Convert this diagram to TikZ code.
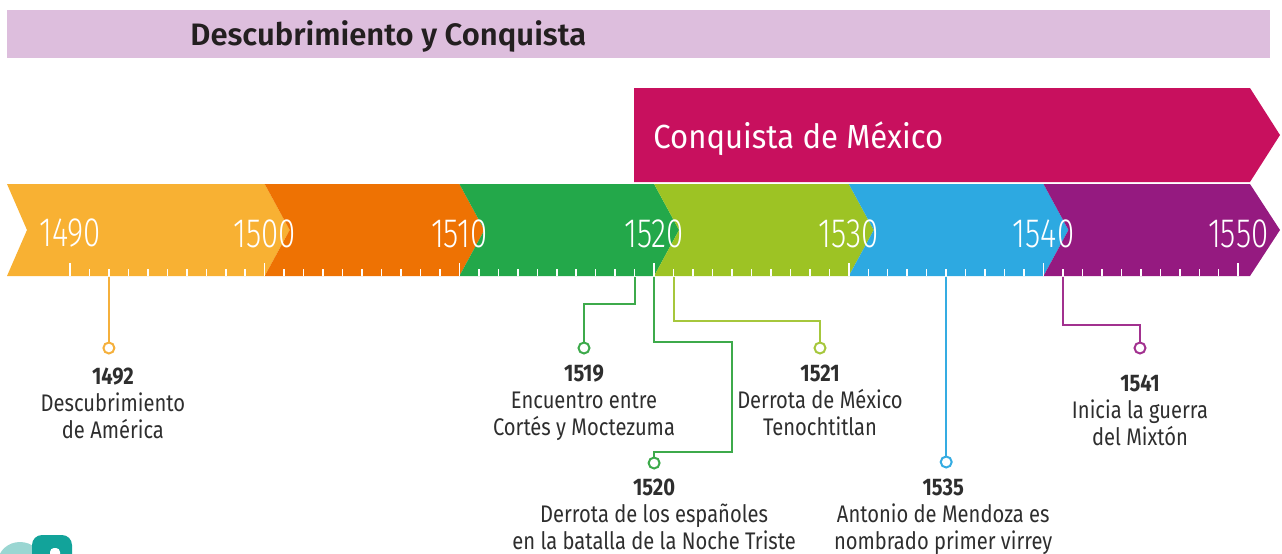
\documentclass[tikz,border=0pt]{standalone}
\usepackage{fontspec}
\setmainfont{Fira Sans}[FakeStretch=0.84]
\newfontfamily\yearfont{Fira Sans Light}[FakeStretch=0.76]
\newfontfamily\bannerfont{Fira Sans}[FakeStretch=0.93]
\newfontfamily\titlefont{Fira Sans SemiBold}
\usetikzlibrary{positioning}
\definecolor{lila}{HTML}{DDBEDD}
\definecolor{conquista}{HTML}{C8105E}
\definecolor{seg1}{HTML}{F8B133}
\definecolor{seg2}{HTML}{EE7203}
\definecolor{seg3}{HTML}{23A84A}
\definecolor{seg4}{HTML}{9DC324}
\definecolor{seg5}{HTML}{2DA9E1}
\definecolor{seg6}{HTML}{951A80}
\definecolor{ev1492}{HTML}{F5B03C}
\definecolor{ev1519}{HTML}{3DAA4B}
\definecolor{ev1521}{HTML}{A6C73C}
\definecolor{ev1535}{HTML}{35ACE2}
\definecolor{ev1541}{HTML}{A2318F}
\definecolor{txtgray}{HTML}{2E2E2E}
\definecolor{titlegray}{HTML}{231F20}
\definecolor{tealclaro}{HTML}{9AD6D2}
\definecolor{tealoscuro}{HTML}{12A39A}
\tikzset{evdot/.style={draw=#1,fill=white,circle,line width=1pt,minimum size=5.5pt,inner sep=0pt},
evline/.style={line width=1.1pt},
evtext/.style={align=center,inner sep=0pt,text=txtgray,font=\fontsize{12}{13.4}\selectfont},
yearlbl/.style={text=white,inner sep=0pt,font=\yearfont\fontsize{20.5}{21}\selectfont}}

\begin{document}
\begin{tikzpicture}[x=0.5pt,y=-0.5pt]
\useasboundingbox (0,0) rectangle (1282,553);
% header
\fill[lila] (7,10) rectangle (1270,58);
\node[anchor=base west,inner sep=0pt,text=titlegray,font=\titlefont\fontsize{15.5}{17}\selectfont] (titulo) at (190,45) {Descubrimiento y Conquista};
% conquista arrow
\fill[conquista] (634,88) -- (1250,88) -- (1280,135) -- (1250,182) -- (634,182) -- cycle;
\node[anchor=base west,inner sep=0pt,text=white,font=\bannerfont\fontsize{16.7}{18}\selectfont] (conq) at (653,148) {Conquista de México};
% time band
\fill[seg1] (7,184) -- (264.7,184) -- (289.7,230) -- (264.7,276) -- (7,276) -- (27,230) -- cycle;
\fill[seg2] (264.7,184) -- (459.4,184) -- (484.4,230) -- (459.4,276) -- (264.7,276) -- (289.7,230) -- cycle;
\fill[seg3] (459.4,184) -- (654.1,184) -- (679.1,230) -- (654.1,276) -- (459.4,276) -- (484.4,230) -- cycle;
\fill[seg4] (654.1,184) -- (848.8,184) -- (873.8,230) -- (848.8,276) -- (654.1,276) -- (679.1,230) -- cycle;
\fill[seg5] (848.8,184) -- (1043.5,184) -- (1068.5,230) -- (1043.5,276) -- (848.8,276) -- (873.8,230) -- cycle;
\fill[seg6] (1043.5,184) -- (1250,184) -- (1280,230) -- (1250,276) -- (1043.5,276) -- (1068.5,230) -- cycle;
% ticks
\foreach \i in {0,...,60}
  \draw[white,line width=0.75pt] ({70+\i*19.47},276) -- ++(0,-7);
\foreach \i in {0,10,...,60}
  \draw[white,line width=0.75pt] ({70+\i*19.47},276) -- ++(0,-13);
% years
\node[yearlbl] (y1490) at (70,233.5) {1490};
\node[yearlbl] (y1500) at (264.7,233.5) {1500};
\node[yearlbl] (y1510) at (459.4,233.5) {1510};
\node[yearlbl] (y1520) at (654.1,233.5) {1520};
\node[yearlbl] (y1530) at (848.8,233.5) {1530};
\node[yearlbl] (y1540) at (1043.5,233.5) {1540};
\node[yearlbl] (y1550) at (1238.2,233.5) {1550};
% events
\coordinate (t1492) at (108.9,277);
\coordinate (t1519) at (634.6,277);
\coordinate (t1520) at (654.1,277);
\coordinate (t1521) at (673.6,277);
\coordinate (t1535) at (946.2,277);
\coordinate (t1541) at (1063,277);
\coordinate (k1520) at (732,342);
\node[evdot=ev1492] (c1492) at (108.9,348) {};
\node[evdot=ev1519] (c1519) at (584,348) {};
\node[evdot=ev1519] (c1520) at (654.1,463) {};
\node[evdot=ev1521] (c1521) at (820,348) {};
\node[evdot=ev1535] (c1535) at (946.2,462) {};
\node[evdot=ev1541] (c1541) at (1140,348) {};
\draw[evline,ev1492] (t1492) -- (c1492);
\draw[evline,ev1519] (t1519) -- ++(0,27) -| (c1519);
\draw[evline,ev1519] (t1520) |- (k1520) -- ++(0,110) -| (c1520);
\draw[evline,ev1521] (t1521) -- ++(0,44) -| (c1521);
\draw[evline,ev1535] (t1535) -- (c1535);
\draw[evline,ev1541] (t1541) -- ++(0,48) -| (c1541);
\node[evtext,below=6.5pt of c1492,xshift=2pt] (e1492) {\textbf{1492}\\Descubrimiento\\de América};
\node[evtext,below=5pt of c1519] (e1519) {\textbf{1519}\\Encuentro entre\\Cortés y Moctezuma};
\node[evtext,below=4.5pt of c1520] (e1520) {\textbf{1520}\\Derrota de los españoles\\en la batalla de la Noche Triste};
\node[evtext,below=5pt of c1521] (e1521) {\textbf{1521}\\Derrota de México\\Tenochtitlan};
\node[evtext,below=5pt of c1535,xshift=-1.5pt] (e1535) {\textbf{1535}\\Antonio de Mendoza es\\nombrado primer virrey};
\node[evtext,below=10pt of c1541] (e1541) {\textbf{1541}\\Inicia la guerra\\del Mixtón};
% corner badge
\fill[tealclaro] (20,562) ellipse [x radius=22, y radius=20];
\fill[tealoscuro,rounded corners=5pt] (32,575) rectangle (72,535);
\fill[white,rounded corners=2pt] (50,575) rectangle (60,548);
\end{tikzpicture}
\end{document}
